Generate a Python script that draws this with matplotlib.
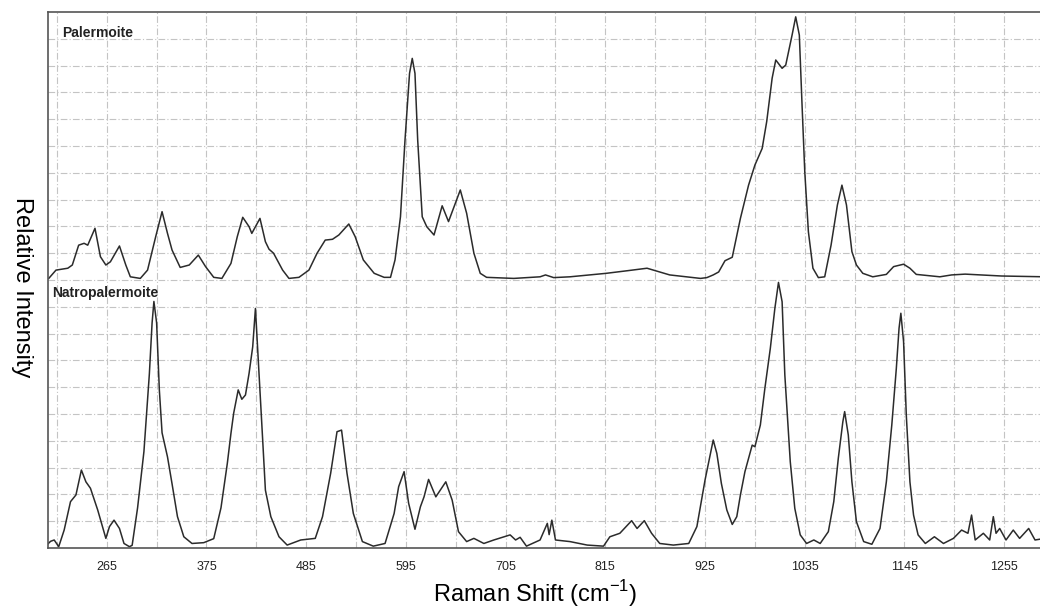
import matplotlib.pyplot as plt
import numpy as np

plt.rcParams['font.family'] = ['Liberation Sans', 'DejaVu Sans']
plt.rcParams['mathtext.fontset'] = 'custom'
plt.rcParams['mathtext.rm'] = 'Liberation Sans'

# ---- data (Raman shift cm-1, relative intensity) ----
# Palermoite (upper trace, offset by ~10)
pal_x = [201, 209, 222, 227, 234, 240, 244, 252, 258, 264, 269, 279, 286, 291,
         302, 310, 319, 326, 332, 337, 346, 356, 366, 374, 383, 392, 402, 409,
         415, 422, 425, 434, 440, 444, 449, 459, 466, 477, 488, 497, 506, 514,
         521, 532, 539, 548, 560, 571, 578, 583, 589, 594, 599, 602, 605, 608,
         613, 618, 626, 635, 642, 655, 662, 670, 677, 684, 714, 743, 749, 758,
         776, 816, 840, 861, 886, 920, 927, 934, 940, 947, 955, 964, 973, 980,
         988, 993, 999, 1003, 1010, 1014, 1021, 1025, 1029, 1032, 1035, 1039,
         1044, 1050, 1057, 1064, 1071, 1076, 1081, 1087, 1092, 1099, 1110, 1125,
         1133, 1144, 1151, 1158, 1184, 1197, 1212, 1252, 1300]
pal_y = [10.06, 10.37, 10.44, 10.56, 11.30, 11.37, 11.30, 11.93, 10.87, 10.56,
         10.68, 11.27, 10.56, 10.12, 10.06, 10.37, 11.62, 12.55, 11.74, 11.12,
         10.47, 10.56, 10.93, 10.50, 10.10, 10.06, 10.62, 11.62, 12.34, 11.99,
         11.74, 12.30, 11.43, 11.15, 11.00, 10.37, 10.06, 10.10, 10.37, 11.00,
         11.49, 11.52, 11.68, 12.09, 11.62, 10.75, 10.25, 10.10, 10.10, 10.75,
         12.36, 15.22, 17.71, 18.27, 17.71, 15.22, 12.36, 11.99, 11.68, 12.77,
         12.18, 13.36, 12.49, 11.00, 10.25, 10.10, 10.06, 10.12, 10.19, 10.09,
         10.12, 10.25, 10.35, 10.44, 10.19, 10.06, 10.09, 10.19, 10.30, 10.72,
         10.85, 12.30, 13.54, 14.29, 14.91, 15.91, 17.53, 18.21, 17.90, 18.02,
         19.14, 19.82, 19.14, 16.53, 14.04, 11.80, 10.44, 10.09, 10.12, 11.30,
         12.80, 13.54, 12.80, 11.06, 10.56, 10.25, 10.12, 10.21, 10.50, 10.59,
         10.44, 10.21, 10.12, 10.19, 10.22, 10.15, 10.12]

# Natropalermoite (lower trace)
nat_x = [200, 203, 207, 212, 218, 225, 231, 237, 242, 247, 255, 264, 268, 273,
         279, 284, 290, 293, 299, 306, 312, 315, 317, 320, 323, 326, 332, 337,
         343, 350, 359, 372, 383, 391, 398, 402, 405, 410, 414, 418, 422, 426,
         429, 433, 437, 440, 446, 455, 464, 479, 495, 503, 512, 519, 524, 530,
         537, 547, 559, 572, 582, 587, 593, 598, 605, 611, 615, 620, 628, 639,
         646, 653, 662, 670, 681, 692, 710, 716, 721, 728, 743, 751, 753, 756,
         760, 776, 795, 813, 820, 831, 844, 850, 858, 866, 875, 890, 907, 916,
         925, 934, 938, 943, 949, 955, 960, 964, 969, 977, 980, 986, 991, 997,
         1002, 1006, 1010, 1013, 1019, 1024, 1030, 1037, 1045, 1052, 1061, 1067,
         1072, 1077, 1079, 1083, 1087, 1092, 1100, 1109, 1118, 1125, 1131, 1136,
         1139, 1141, 1144, 1147, 1151, 1155, 1160, 1168, 1178, 1188, 1199, 1208,
         1215, 1219, 1223, 1232, 1239, 1243, 1246, 1250, 1257, 1265, 1272, 1282,
         1289, 1300]
nat_y = [0.15, 0.25, 0.30, 0.05, 0.67, 1.73, 1.98, 2.91, 2.47, 2.23, 1.42, 0.36,
         0.80, 1.04, 0.73, 0.17, 0.05, 0.10, 1.50, 3.60, 6.50, 8.40, 9.20, 8.40,
         5.90, 4.30, 3.40, 2.40, 1.17, 0.42, 0.17, 0.20, 0.35, 1.50, 3.16, 4.28,
         5.03, 5.90, 5.55, 5.71, 6.52, 7.51, 8.94, 6.52, 4.03, 2.16, 1.17, 0.42,
         0.11, 0.30, 0.36, 1.17, 2.79, 4.34, 4.40, 2.79, 1.29, 0.24, 0.07, 0.17,
         1.29, 2.29, 2.85, 1.67, 0.70, 1.54, 1.91, 2.56, 1.91, 2.47, 1.79, 0.61,
         0.24, 0.36, 0.17, 0.30, 0.49, 0.30, 0.40, 0.07, 0.30, 0.92, 0.50, 1.04,
         0.30, 0.24, 0.11, 0.07, 0.42, 0.55, 1.02, 0.73, 1.02, 0.55, 0.17, 0.11,
         0.17, 0.80, 2.54, 4.03, 3.53, 2.41, 1.42, 0.88, 1.17, 1.98, 2.85, 3.84,
         3.78, 4.59, 5.96, 7.45, 8.94, 9.91, 9.19, 6.46, 3.22, 1.48, 0.49, 0.17,
         0.30, 0.17, 0.61, 1.73, 3.35, 4.71, 5.09, 4.22, 2.47, 0.98, 0.24, 0.14,
         0.73, 2.47, 4.59, 6.70, 8.20, 8.76, 7.70, 4.96, 2.47, 1.23, 0.49, 0.17,
         0.42, 0.17, 0.36, 0.67, 0.55, 1.23, 0.30, 0.55, 0.30, 1.17, 0.55, 0.73,
         0.30, 0.67, 0.36, 0.73, 0.30, 0.36]

tick_pos = [265, 375, 485, 595, 705, 815, 925, 1035, 1145, 1255]
names = ['Palermoite', 'Natropalermoite']

fig = plt.figure(figsize=(10.4, 6.1), dpi=100)
ax = fig.add_axes([0.046, 0.1016, 0.9588, 0.8787])

ax.plot(pal_x, pal_y, color='#2b2b2b', lw=1.1)
ax.plot(nat_x, nat_y, color='#2b2b2b', lw=1.1)

ax.set_xlim(200, 1300)
ax.set_ylim(0, 20)

# grid: every 55 cm-1 across, every unit up
ax.set_xticks(tick_pos)
ax.set_xticks(np.arange(210, 1300, 110), minor=True)
ax.set_yticks(np.arange(1, 20))
ax.set_yticklabels([])
ax.grid(True, which='both', color='#c4c4c4', lw=0.8, ls=(0, (6, 2, 1, 2)))
ax.tick_params(axis='both', which='both', length=0)
ax.tick_params(axis='x', labelsize=9, pad=9, labelcolor='#222222')

for s in ['left', 'bottom', 'top']:
    ax.spines[s].set_color('#555555')
    ax.spines[s].set_linewidth(1.2)
ax.spines['right'].set_visible(False)

ax.text(216, 19.2, names[0], fontsize=10, fontweight='bold', va='center',
        color='#222222')
ax.text(205, 9.5, names[1], fontsize=10, fontweight='bold', va='center',
        color='#222222')

fig.text(535 / 1040, 1 - 594 / 610, r'Raman Shift (cm$^{\mathregular{-1}}$)',
         fontsize=17, ha='center', va='center')
fig.text(22 / 1040, 1 - 287 / 610, 'Relative Intensity', fontsize=17,
         rotation=270, ha='center', va='center')

fig.savefig('out.png', dpi=100)
